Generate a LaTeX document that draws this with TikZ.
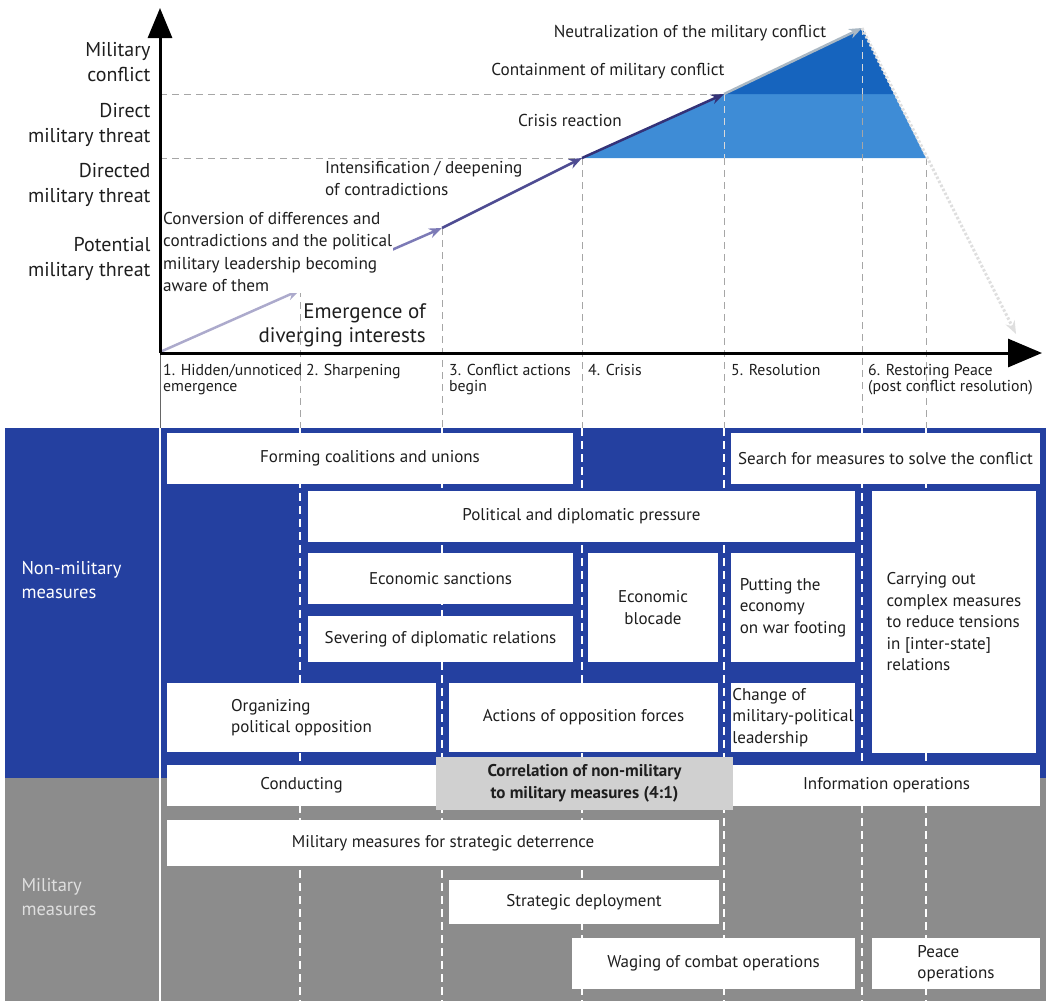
\documentclass[tikz,border=0pt]{standalone}
\usepackage{fontspec}
\setmainfont{PT Sans}
\usetikzlibrary{arrows.meta,positioning}
\usepackage{xcolor}

\definecolor{nonmil}{RGB}{36,64,160}
\definecolor{mil}{RGB}{140,140,140}
\definecolor{lightblue}{RGB}{62,140,214}
\definecolor{darkblue}{RGB}{22,100,190}
\definecolor{corrgray}{RGB}{208,208,208}
\definecolor{txt}{RGB}{30,30,30}

\tikzset{
  lvl/.style={anchor=east, align=right, text=txt, font=\fontsize{20}{25.5}\selectfont},
  stage/.style={anchor=north west, align=left, text=txt, inner sep=1pt, font=\fontsize{15.8}{16.5}\selectfont},
  note/.style={align=left, text=txt, fill=white, inner sep=1pt, font=\fontsize{17.2}{22.5}\selectfont},
  box/.style={rectangle, fill=white, inner sep=0pt, align=center, text=txt, font=\fontsize{17}{21.5}\selectfont},
  sect/.style={anchor=north west, align=left, font=\fontsize{18.5}{24}\selectfont},
  guide/.style={gray!70, dashed, dash pattern=on 7pt off 5pt, line width=0.8pt},
  wguide/.style={white, dash pattern=on 8pt off 5pt, line width=1.2pt},
  path/.style={line width=2.5pt, -{Stealth[length=13pt,width=10pt]}}
}

\begin{document}
\begin{tikzpicture}[x=1pt, y=-1pt]
    \useasboundingbox (0,0) rectangle (1048,1001);

    % Key points of the curve
    \coordinate (origin) at (160,353);
    \coordinate (ytop) at (160,8);
    \coordinate (xend) at (1042,353);
    \coordinate (p0) at (160,352);
    \coordinate (p1) at (300,290);
    \coordinate (p2) at (442,228);
    \coordinate (p3) at (582,158);
    \coordinate (p4) at (724,94);
    \coordinate (p5) at (862,28);
    \coordinate (p6) at (1016,334);
    \coordinate (q4) at (894,94);
    \coordinate (q3) at (926,158);

    % Blue areas
    \fill[lightblue] (p3) -- (p4) -- (q4) -- (q3) -- cycle;
    \fill[darkblue] (p4) -- (p5) -- (q4) -- cycle;

    % Level guides
    \draw[guide] (160,94) -- (p4);
    \draw[guide] (160,158) -- (p3);
    \draw[guide] (p1) -- (300,428);
    \draw[guide] (p2) -- (442,428);
    \draw[guide] (p3) -- (582,428);
    \draw[guide, white!70!gray] (p4) -- (724,158);
    \draw[guide] (724,158) -- (724,428);
    \draw[guide, white!70!gray] (p5) -- (862,94);
    \draw[guide] (862,94) -- (862,428);
    \draw[guide] (q3) -- (926,428);
    \draw[gray!80!black, line width=0.8pt] (origin) -- (160,428);

    % Escalation path
    \draw[path, color={rgb,255:red,172;green,170;blue,204}] (p0) -- (p1);
    \draw[path, color={rgb,255:red,124;green,122;blue,182}] (p1) -- (p2);
    \draw[path, color={rgb,255:red,78;green,76;blue,146}] (p2) -- (p3);
    \draw[path, color={rgb,255:red,52;green,50;blue,120}] (p3) -- (p4);
    \draw[path, color={rgb,255:red,170;green,184;blue,196}] (p4) -- (p5);
    \draw[path, gray!25, dotted, line width=3pt] (p5) -- (p6);

    % Axes
    \draw[line width=3pt, -{Triangle[length=30pt,width=24pt]}] (origin) -- (ytop);
    \draw[line width=3pt, -{Triangle[length=34pt,width=28pt]}] (origin) -- (xend);

    % Threat levels
    \node[lvl] (lvconflict) at (154,62) {Military\\conflict};
    \node[lvl] (lvdirect) at (154,125) {Direct\\military threat};
    \node[lvl] (lvdirected) at (154,185) {Directed\\military threat};
    \node[lvl] (lvpotential) at (154,259) {Potential\\military threat};

    % Path labels
    \node[note, anchor=north west] (conversion) at (162,211) {Conversion of differences and\\contradictions and the political\\military leadership becoming\\aware of them};
    \node[note, anchor=north west, fill=none] (intens) at (324,160) {Intensification / deepening\\of contradictions};
    \node[note, anchor=north east, align=right, fill=none, font=\fontsize{21}{24}\selectfont] (emergence) at (427,302) {Emergence of\\diverging interests};
    \node[note, fill=none] (crisisreact) at (570,120) {Crisis reaction};
    \node[note, fill=none] (containment) at (608,71) {Containment of military conflict};
    \node[note, fill=none] (neutral) at (690,33) {Neutralization of the military conflict};

    % Stages
    \node[stage] (stage1) at (162,363) {1. Hidden/unnoticed\\emergence};
    \node[stage] (stage2) at (305,363) {2. Sharpening};
    \node[stage] (stage3) at (448,363) {3. Conflict actions\\begin};
    \node[stage] (stage4) at (587,363) {4. Crisis};
    \node[stage] (stage5) at (730,363) {5. Resolution};
    \node[stage] (stage6) at (867,363) {6. Restoring Peace\\(post conflict resolution)};

    % Bands
    \fill[nonmil] (5,428) rectangle (1046,778);
    \fill[mil] (5,778) rectangle (1046,1001);
    \draw[white, line width=2pt] (160,428) -- (160,1001);
    \foreach \gx in {300,442,582,724,862,926}
        \draw[wguide] (\gx,428) -- (\gx,1001);
    \node[sect, text=white] (nonmillbl) at (18,558) {Non-military\\measures};
    \node[sect, text=gray!25] (millbl) at (18,875) {Military\\measures};

    % Non-military measures
    \node[box, minimum width=406pt, minimum height=51pt] (coalitions) at (370,458.5) {Forming coalitions and unions};
    \node[box, minimum width=309pt, minimum height=51pt] (search) at (885.5,458.5) {Search for measures to solve the conflict};
    \node[box, minimum width=547pt, minimum height=51pt] (pressure) at (581.5,516.5) {Political and diplomatic pressure};
    \node[box, minimum width=265pt, minimum height=51pt] (sanctions) at (440.5,578.5) {Economic sanctions};
    \node[box, minimum width=265pt, minimum height=46pt] (severing) at (440.5,639) {Severing of diplomatic relations};
    \node[box, minimum width=130pt, minimum height=109pt] (blocade) at (653,607.5) {Economic\\blocade};
    \node[box, minimum width=124pt, minimum height=109pt, align=left] (warfooting) at (793,607.5) {Putting the\\economy\\on war footing};
    \node[box, minimum width=164pt, minimum height=262pt, align=left] (tensions) at (954,622) {Carrying out\\complex measures\\to reduce tensions\\in [inter-state]\\relations};
    \node[box, minimum width=269pt, minimum height=69pt, align=left] (opposition) at (301.5,717.5) {Organizing\\political opposition};
    \node[box, minimum width=269pt, minimum height=69pt] (oppforces) at (583.5,717.5) {Actions of opposition forces};
    \node[box, minimum width=124pt, minimum height=69pt, align=left] (leadership) at (793,717.5) {Change of\\military-political\\leadership};

    % Transition row
    \node[box, minimum width=269pt, minimum height=41pt] (conducting) at (301.5,785.5) {Conducting};
    \node[box, minimum width=307pt, minimum height=41pt] (infoops) at (886.5,785.5) {Information operations};
    \node[box, fill=corrgray, minimum width=297pt, minimum height=53pt, font=\bfseries\fontsize{17}{21.5}\selectfont] (correlation) at (584.5,783.5) {Correlation of non-military\\to military measures (4:1)};

    % Military measures
    \node[box, minimum width=552pt, minimum height=46pt] (deterrence) at (443,843) {Military measures for strategic deterrence};
    \node[box, minimum width=270pt, minimum height=44pt] (deployment) at (584,902) {Strategic deployment};
    \node[box, minimum width=283pt, minimum height=51pt] (combat) at (713.5,963.5) {Waging of combat operations};
    \node[box, minimum width=168pt, minimum height=51pt, align=left] (peaceops) at (956,963.5) {Peace\\operations};
\end{tikzpicture}
\end{document}
